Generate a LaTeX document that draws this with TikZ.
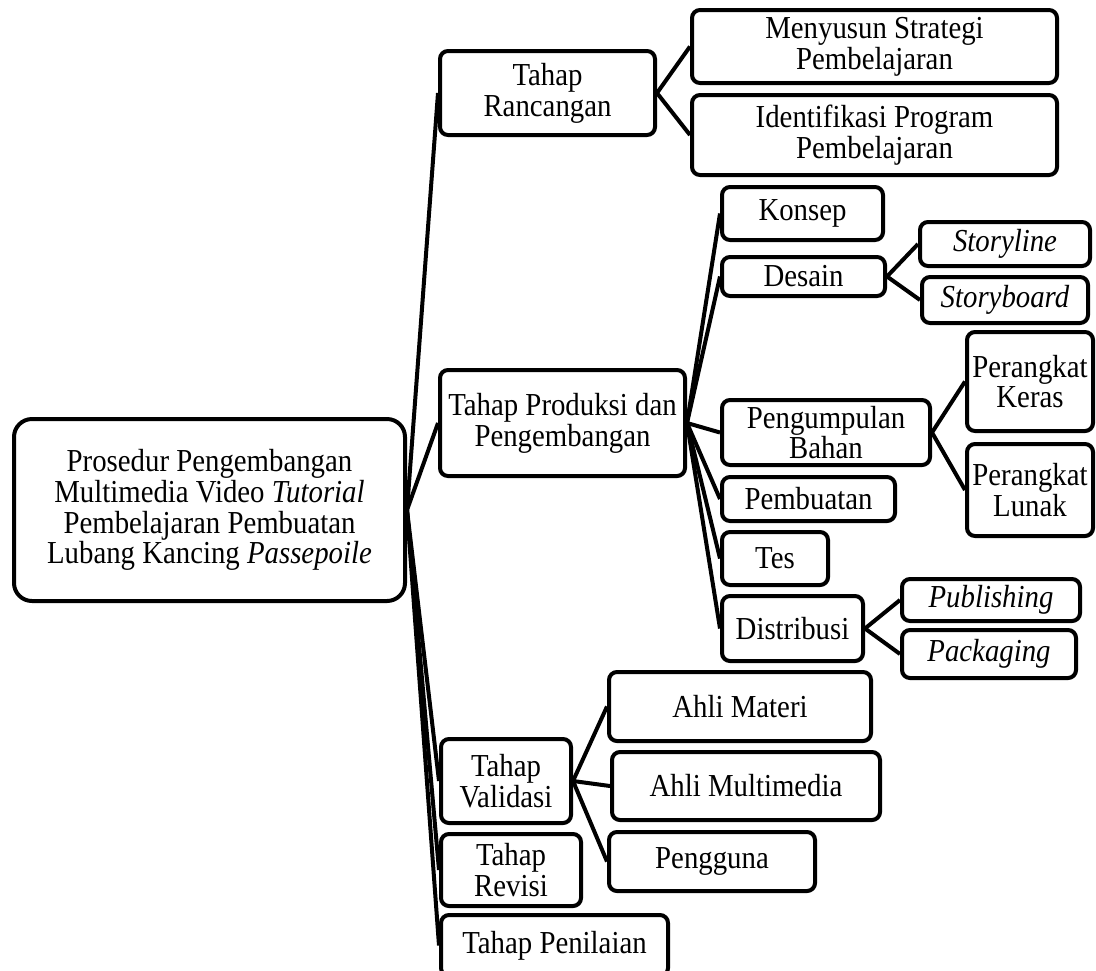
\documentclass[tikz,border=0pt]{standalone}
\usepackage{fontspec}
\setmainfont[FakeStretch=0.9]{Liberation Serif}
\usetikzlibrary{positioning}

\begin{document}
\begin{tikzpicture}[
  x=0.5pt, y=-0.5pt,
  box/.style={draw, rounded corners=4pt, line width=2pt, align=center, inner sep=0pt,
    font=\fontsize{16pt}{15.4pt}\selectfont},
  rootbox/.style={box, rounded corners=9pt},
  link/.style={line width=2pt}
]
\useasboundingbox (0,0) rectangle (1096,970);

\node[rootbox, minimum width=195.5pt, minimum height=91pt] (root) at (209.5,510)
  {Prosedur Pengembangan\\Multimedia Video \textit{Tutorial}\\Pembelajaran Pembuatan\\Lubang Kancing \textit{Passepoile}};

% tahap rancangan
\node[box, minimum width=107.5pt, minimum height=42pt] (ranc) at (547.5,93) {Tahap\\Rancangan};
\node[box, minimum width=182.5pt, minimum height=36.5pt] (strat) at (874.5,46.5) {Menyusun Strategi\\Pembelajaran};
\node[box, minimum width=182.5pt, minimum height=40pt] (ident) at (874.5,135) {Identifikasi Program\\Pembelajaran};

% tahap produksi
\node[box, minimum width=122.5pt, minimum height=53pt] (prod) at (562.5,423) {Tahap Produksi dan\\Pengembangan};
\node[box, minimum width=80.5pt, minimum height=26.5pt] (konsep) at (802.5,213.5) {Konsep};
\node[box, minimum width=81.5pt, minimum height=19.5pt] (desain) at (803.5,276.5) {Desain};
\node[box, minimum width=85pt, minimum height=22pt] (storyline) at (1005,244) {\textit{Storyline}};
\node[box, minimum width=83pt, minimum height=23pt] (storyboard) at (1005,300) {\textit{Storyboard}};
\node[box, minimum width=104pt, minimum height=32.5pt] (bahan) at (826,432.5) {Pengumpulan\\Bahan};
\node[box, minimum width=63pt, minimum height=49.5pt] (keras) at (1030,381.5) {Perangkat\\Keras};
\node[box, minimum width=63pt, minimum height=46pt] (lunak) at (1030,490) {Perangkat\\Lunak};
\node[box, minimum width=86.5pt, minimum height=22pt] (buat) at (808.5,499) {Pembuatan};
\node[box, minimum width=53pt, minimum height=26.5pt] (tes) at (775,558.5) {Tes};
\node[box, minimum width=70.5pt, minimum height=32.5pt] (distr) at (792.5,628.5) {Distribusi};
\node[box, minimum width=89pt, minimum height=21pt] (publish) at (991,600) {\textit{Publishing}};
\node[box, minimum width=87pt, minimum height=24pt] (pack) at (989,654) {\textit{Packaging}};

% tahap validasi, revisi, penilaian
\node[box, minimum width=65pt, minimum height=42pt] (valid) at (506,781) {Tahap\\Validasi};
\node[box, minimum width=131pt, minimum height=34.5pt] (materi) at (740,706.5) {Ahli Materi};
\node[box, minimum width=134pt, minimum height=34pt] (multi) at (746,786) {Ahli Multimedia};
\node[box, minimum width=103pt, minimum height=29.5pt] (guna) at (712,861.5) {Pengguna};
\node[box, minimum width=70pt, minimum height=36pt] (revisi) at (511,870) {Tahap\\Revisi};
\node[box, minimum width=113.5pt, minimum height=30.5pt] (nilai) at (554.5,945.5) {Tahap Penilaian};

\draw[link] (root.east) -- (ranc.west);
\draw[link] (root.east) -- (prod.west);
\draw[link] (root.east) -- (valid.west);
\draw[link] (root.east) -- (revisi.west);
\draw[link] (root.east) -- (nilai.west);

\draw[link] (ranc.east) -- (strat.west);
\draw[link] (ranc.east) -- (ident.west);

\draw[link] (prod.east) -- (konsep.west);
\draw[link] (prod.east) -- (desain.west);
\draw[link] (prod.east) -- (bahan.west);
\draw[link] (prod.east) -- (buat.west);
\draw[link] (prod.east) -- (tes.west);
\draw[link] (prod.east) -- (distr.west);

\draw[link] (desain.east) -- (storyline.west);
\draw[link] (desain.east) -- (storyboard.west);
\draw[link] (bahan.east) -- (keras.west);
\draw[link] (bahan.east) -- (lunak.west);
\draw[link] (distr.east) -- (publish.west);
\draw[link] (distr.east) -- (pack.west);

\draw[link] (valid.east) -- (materi.west);
\draw[link] (valid.east) -- (multi.west);
\draw[link] (valid.east) -- (guna.west);
\end{tikzpicture}
\end{document}
